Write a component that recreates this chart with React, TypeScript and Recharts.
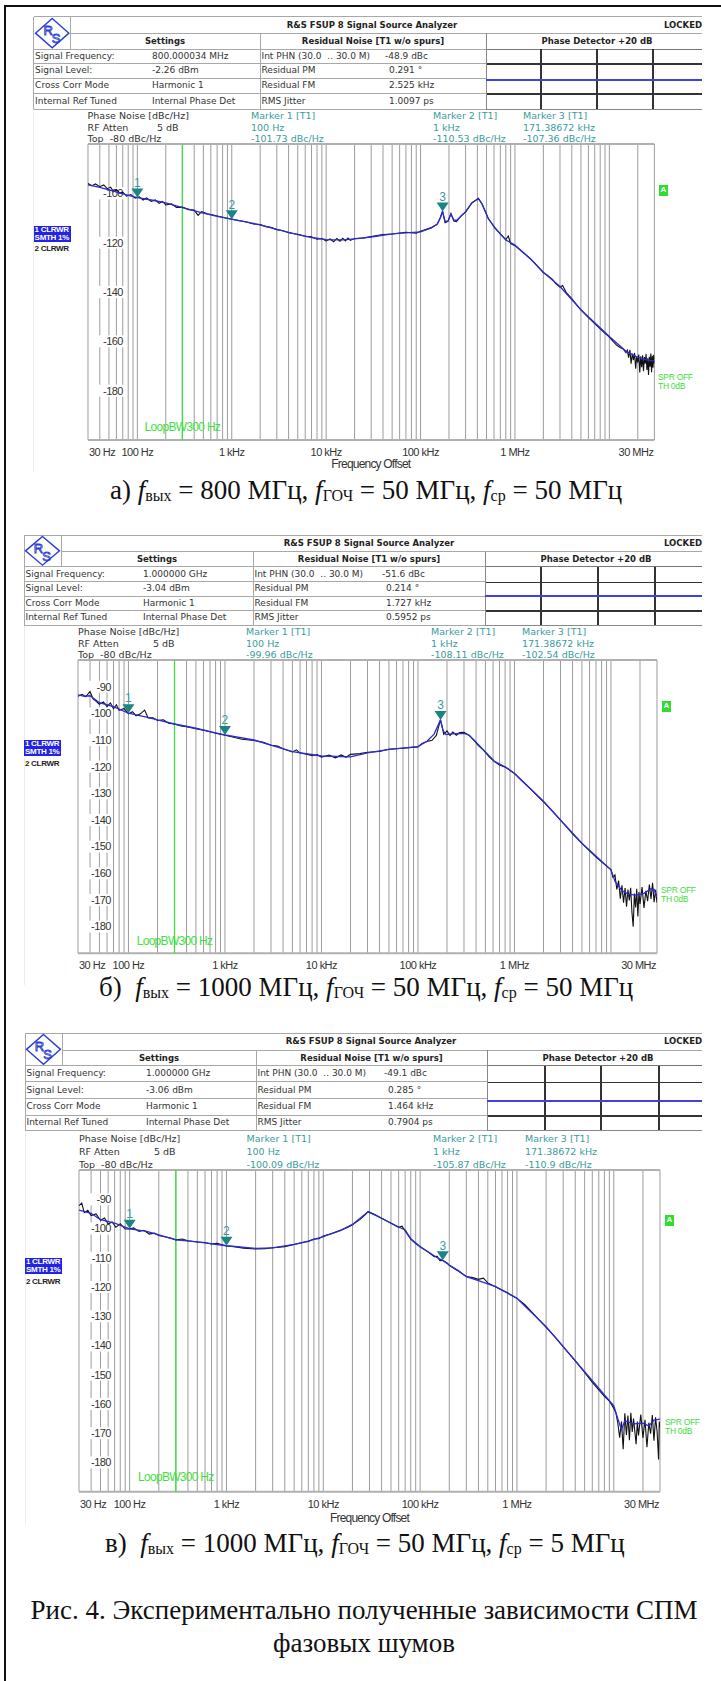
import React from "react";
import {
  LineChart,
  Line,
  XAxis,
  YAxis,
  CartesianGrid,
  ReferenceLine,
  ReferenceDot,
} from "recharts";

type Pt = [number, number];

// ---------- axis / tick data ----------
const xTickLabels: Record<number, string> = {
  30: "30 Hz",
  100: "100 Hz",
  1000: "1 kHz",
  10000: "10 kHz",
  100000: "100 kHz",
  1000000: "1 MHz",
  30000000: "30 MHz",
};
// log grid: 30..90 Hz, then 1..9 per decade up to 30 MHz
const gridFreqs = [
  30, 40, 50, 60, 70, 80, 90,
  ...[1e2, 1e3, 1e4, 1e5, 1e6].flatMap((d) => [1, 2, 3, 4, 5, 6, 7, 8, 9].map((m) => m * d)),
  1e7, 2e7, 3e7,
];
const yGridA = [-80, -100, -120, -140, -160, -180, -200];
const yLabelsA = [-100, -120, -140, -160, -180];
const yGridBC = [-80, -90, -100, -110, -120, -130, -140, -150, -160, -170, -180, -190];
const yLabelsBC = [-90, -100, -110, -120, -130, -140, -150, -160, -170, -180];
const loopBw = 300;

// ---------- markers ----------
const markerFreqs = [100, 1000, 171386.72];
const markerFreqLabels = ["100 Hz", "1 kHz", "171.38672 kHz"];
const markerA = [-101.73, -110.53, -107.36];
const markerB = [-99.96, -108.11, -102.54];
const markerC = [-100.09, -105.87, -110.9];

// ---------- header tables ----------
const settingsLabels = ["Signal Frequency:", "Signal Level:", "Cross Corr Mode", "Internal Ref Tuned"];
const residualLabels = ["Int PHN (30.0  .. 30.0 M)", "Residual PM", "Residual FM", "RMS Jitter"];
const settingsA = ["800.000034 MHz", "-2.26 dBm", "Harmonic 1", "Internal Phase Det"];
const residualA = ["-48.9 dBc", "0.291 °", "2.525 kHz", "1.0097 ps"];
const settingsB = ["1.000000 GHz", "-3.04 dBm", "Harmonic 1", "Internal Phase Det"];
const residualB = ["-51.6 dBc", "0.214 °", "1.727 kHz", "0.5952 ps"];
const settingsC = ["1.000000 GHz", "-3.06 dBm", "Harmonic 1", "Internal Phase Det"];
const residualC = ["-49.1 dBc", "0.285 °", "1.464 kHz", "0.7904 ps"];

// ---------- captions ----------
const captionA = ["а) ", "800", "50", "50"];
const captionB = ["б)  ", "1000", "50", "50"];
const captionC = ["в)  ", "1000", "50", "5"];
const figCaption = ["Рис. 4. Экспериментально полученные зависимости СПМ", "фазовых шумов"];

// ---------- traces (freq Hz, dBc/Hz) ----------
const smoothA: Pt[] = [
  [30, -96.6], [40, -97.6], [50, -98.6], [70, -100.2], [100, -101.7], [150, -102.9], [200, -103.9],
  [300, -105.8], [500, -108], [700, -109.3], [1000, -110.5], [1500, -111.8], [2000, -112.8],
  [3000, -114.6], [5000, -116.7], [7000, -117.9], [10000, -118.8], [15000, -118.9], [20000, -118.5],
  [30000, -117.7], [50000, -116.4], [70000, -116], [100000, -115.6], [130000, -114], [150000, -112.5],
  [162000, -110], [171000, -107.4], [182000, -111.5], [195000, -111.2], [210000, -108.4],
  [225000, -110.8], [240000, -111], [270000, -109.2], [300000, -107.4], [350000, -103.8],
  [410000, -102.2], [450000, -104.5], [520000, -110], [610000, -114], [800000, -118.9],
  [1000000, -121], [1500000, -127], [2000000, -132], [3000000, -137.8], [5000000, -147.2],
  [7000000, -152.5], [10000000, -158], [15000000, -164], [20000000, -166.5], [25000000, -167.5],
  [30000000, -168],
];
const noisyA: Pt[] = [
  [30, -96.0], [33, -96.9], [36, -96.2], [40, -97.3], [44, -96.6], [48, -98.1], [52, -97.5], [56, -99.3],
  [60, -98.4], [65, -99.9], [70, -99.5], [77, -101.1], [85, -100.5], [95, -101.9], [105, -101.4],
  [115, -102.7], [125, -101.9], [140, -103.3], [155, -102.7], [170, -104.1], [185, -103.3], [200, -104.7],
  [230, -104.3], [260, -105.7], [300, -105.6], [350, -106.6], [400, -106.8], [440, -108.9], [480, -107.4],
  [550, -108.3], [650, -108.9], [800, -109.7], [1000, -110.5], [1200, -111.1], [1400, -111.5],
  [1700, -112.4], [2000, -112.7], [2300, -113.5], [2600, -113.8], [3000, -114.7], [3500, -115.2],
  [4000, -116.0], [5000, -116.6], [6000, -117.4], [7000, -117.6], [8000, -118.6], [9000, -118.3],
  [10000, -119.3], [11000, -118.5], [12000, -119.6], [13000, -118.3], [14000, -119.4], [15000, -118.2],
  [16000, -119.3], [17000, -118.1], [18000, -119.1], [20000, -118.3], [25000, -118.1], [30000, -117.5],
  [40000, -116.7], [50000, -116.5], [70000, -115.8], [90000, -116.2], [100000, -115.4], [130000, -113.9],
  [150000, -112.6], [162000, -109.8], [171000, -107.2], [182000, -111.9], [195000, -111.4],
  [210000, -108.2], [225000, -111.2], [240000, -111.5], [270000, -109.0], [300000, -107.6],
  [350000, -103.9], [410000, -102.0], [450000, -104.4], [520000, -110.2], [610000, -113.8],
  [700000, -116.4], [800000, -118.8], [850000, -117.3], [900000, -120.4], [1000000, -121.2],
  [1200000, -123.8], [1400000, -125.9], [1600000, -128.1], [1800000, -130.2], [2000000, -132.2],
  [2200000, -133.2], [2500000, -134.9], [2700000, -136.6], [3000000, -138.0], [3200000, -137.4],
  [3500000, -140.3], [4000000, -142.7], [5000000, -147.3], [6000000, -150.4], [7000000, -152.8],
  [8000000, -154.9], [9000000, -156.8], [10000000, -158.3], [11000000, -160.1], [12000000, -161.6],
  [13000000, -162.5], [14000000, -163.1], [15000000, -164.6], [15500000, -163.6], [16000000, -166.6],
  [16500000, -163.4], [17000000, -169.1], [17500000, -165.0], [18000000, -167.6], [18500000, -164.7],
  [19000000, -171.1], [19500000, -166.0], [20000000, -168.6], [20500000, -165.4], [21000000, -172.6],
  [21500000, -166.1], [22000000, -170.5], [22500000, -165.7], [23000000, -172.1], [23500000, -166.4],
  [24000000, -169.1], [24500000, -165.1], [25000000, -171.6], [25500000, -166.9], [26000000, -173.6],
  [26500000, -166.3], [27000000, -170.3], [27500000, -164.9], [28000000, -172.5], [28500000, -165.9],
  [29000000, -170.7], [29500000, -165.5], [30000000, -169.0],
];

const smoothB: Pt[] = [
  [30, -93.1], [35, -93.6], [40, -93.4], [50, -96], [70, -97.5], [100, -99.96], [150, -101.3],
  [200, -102.5], [300, -104], [500, -105.6], [700, -106.9], [1000, -108.1], [2000, -110],
  [3000, -111.9], [5000, -114.4], [10000, -116], [20000, -116.3], [30000, -114.8], [50000, -113.5],
  [100000, -112.5], [124000, -110.5], [147000, -107.8], [171000, -102.5], [182000, -106.5],
  [195000, -108], [240000, -107.6], [300000, -107.5], [340000, -108.2], [380000, -110],
  [480000, -113.8], [620000, -118], [815000, -120.2], [1000000, -122.5], [2000000, -133],
  [3000000, -140], [5000000, -148.7], [10000000, -158.7], [11000000, -163], [13000000, -166.5],
  [15000000, -167.8], [18000000, -168.2], [22000000, -167.5], [26000000, -165.8], [28000000, -166],
  [30000000, -169],
];
const noisyB: Pt[] = [
  [30, -93.6], [33, -92.9], [36, -93.8], [40, -91.8], [43, -94.6], [46, -95.4], [50, -96.6], [55, -95.7],
  [60, -97.5], [65, -96.1], [70, -98.3], [75, -96.8], [80, -98.9], [90, -98.2], [100, -100.2], [110, -99.4],
  [120, -100.9], [133, -100.2], [147, -98.8], [160, -101.7], [180, -101.7], [200, -102.7], [230, -102.4],
  [260, -103.7], [300, -104.0], [350, -104.7], [400, -105.0], [500, -105.8], [600, -106.3], [700, -106.9],
  [800, -107.5], [1000, -108.2], [1200, -108.9], [1500, -109.7], [2000, -110.2], [2500, -110.9],
  [3000, -112.0], [3500, -112.3], [4000, -113.3], [5000, -114.5], [5500, -113.7], [6000, -114.9],
  [7000, -115.3], [8000, -115.9], [9000, -115.5], [10000, -116.4], [12000, -115.7], [14000, -116.7],
  [16000, -115.6], [18000, -116.5], [20000, -115.4], [25000, -115.1], [30000, -114.6], [40000, -114.3],
  [50000, -113.5], [70000, -113.1], [100000, -112.6], [110000, -111.3], [124000, -110.6],
  [140000, -110.1], [155000, -108.3], [165000, -104.6], [171000, -102.4], [178000, -104.9],
  [185000, -107.9], [200000, -106.6], [215000, -108.3], [230000, -107.0], [250000, -108.2],
  [270000, -107.2], [300000, -107.1], [340000, -108.3], [380000, -110.1], [420000, -112.0],
  [480000, -113.9], [550000, -116.4], [620000, -118.1], [700000, -119.4], [815000, -120.3],
  [1000000, -122.6], [1200000, -125.4], [1500000, -128.7], [1800000, -131.6], [2000000, -133.2],
  [2500000, -136.9], [3000000, -140.1], [3500000, -142.8], [4000000, -145.2], [5000000, -148.8],
  [6000000, -151.6], [7000000, -153.9], [8000000, -155.7], [9000000, -157.3], [10000000, -158.6],
  [10500000, -161.5], [11000000, -160.6], [11500000, -166.0], [12000000, -162.7], [12500000, -169.5],
  [13000000, -164.5], [13500000, -171.0], [14000000, -165.5], [14500000, -172.5], [15000000, -166.1],
  [15500000, -170.2], [16000000, -165.4], [16500000, -174.6], [17000000, -180.0], [17500000, -167.6],
  [18000000, -172.8], [18500000, -165.8], [19000000, -176.2], [19500000, -167.0], [20000000, -171.5],
  [21000000, -165.2], [22000000, -173.0], [23000000, -166.6], [24000000, -170.4], [25000000, -164.2],
  [26000000, -169.6], [27000000, -163.6], [28000000, -170.8], [29000000, -166.2], [30000000, -171.0],
];

const smoothC: Pt[] = [
  [30, -93.7], [40, -94.8], [50, -97], [70, -98.2], [100, -100.1], [150, -101], [200, -102.2],
  [300, -103.9], [500, -104.6], [1000, -105.9], [2000, -106.8], [3000, -106.6], [5000, -105.4],
  [7000, -104.3], [10000, -102.8], [15000, -100.7], [20000, -98.6], [29000, -94.3], [40000, -96.5],
  [60000, -99.5], [70000, -100.5], [80000, -103.5], [100000, -106.2], [150000, -110], [171000, -110.9],
  [200000, -112.5], [250000, -114.5], [300000, -116.5], [400000, -117.8], [600000, -119.9],
  [1000000, -123.9], [2000000, -133.6], [3000000, -140.4], [5000000, -149], [10000000, -160.6],
  [11000000, -165], [12000000, -168.8], [13000000, -165.8], [16000000, -166.8], [20000000, -166.6],
  [23000000, -167.5], [26000000, -165.5], [30000000, -165.2],
];
const noisyC: Pt[] = [
  [30, -92.2], [32, -91.3], [34, -94.6], [37, -93.8], [40, -95.6], [45, -95.0], [50, -97.2], [55, -96.4],
  [60, -98.5], [66, -97.8], [72, -99.6], [80, -98.4], [90, -100.2], [100, -100.2], [110, -99.8],
  [125, -101.0], [140, -100.6], [160, -101.9], [180, -101.6], [200, -102.4], [230, -102.8], [260, -103.2],
  [300, -103.9], [350, -103.6], [400, -104.2], [500, -104.6], [600, -104.8], [700, -105.3], [800, -105.1],
  [1000, -106.0], [1200, -106.2], [1500, -106.7], [2000, -107.0], [2500, -106.9], [3000, -106.6],
  [4000, -106.2], [5000, -105.5], [6000, -104.9], [7000, -104.4], [8000, -103.6], [9000, -103.5],
  [10000, -102.6], [12000, -101.8], [15000, -100.6], [18000, -99.6], [20000, -98.7], [24000, -96.9],
  [27000, -95.3], [29000, -94.2], [34000, -95.2], [40000, -96.5], [50000, -98.2], [60000, -99.6],
  [65000, -99.2], [70000, -100.8], [80000, -103.6], [90000, -105.2], [100000, -106.3], [120000, -108.0],
  [140000, -109.6], [150000, -109.5], [160000, -111.0], [171000, -110.9], [190000, -111.8],
  [200000, -112.6], [220000, -113.5], [250000, -114.6], [300000, -116.4], [350000, -116.8],
  [400000, -117.4], [450000, -117.0], [500000, -118.6], [600000, -119.9], [700000, -121.0],
  [800000, -122.0], [900000, -123.0], [1000000, -123.9], [1200000, -126.0], [1500000, -129.4],
  [2000000, -133.8], [2500000, -137.2], [3000000, -140.4], [4000000, -145.3], [5000000, -149.2],
  [6000000, -152.6], [7000000, -155.2], [8000000, -157.4], [9000000, -159.0], [10000000, -161.5],
  [10500000, -163.0], [11000000, -166.5], [11500000, -171.5], [12000000, -166.0], [12500000, -175.5],
  [13000000, -163.2], [13500000, -170.6], [14000000, -164.0], [14500000, -172.4], [15000000, -163.0],
  [15500000, -169.6], [16000000, -165.0], [17000000, -173.8], [17500000, -166.0], [18000000, -170.8],
  [19000000, -163.6], [20000000, -171.6], [21000000, -165.4], [22000000, -174.8], [23000000, -166.4],
  [24000000, -170.2], [25000000, -163.8], [26000000, -172.6], [27000000, -164.6], [28000000, -169.4],
  [29000000, -179.0], [29500000, -166.0], [30000000, -168.0],
];

// ---------- layout (page pixels) ----------
type Geo = {
  fl: number; fr: number; rows: number[]; logoR: number; c1: number; c2: number; v1: number; v2: number;
  pd: number[]; pdBlue: number; pdNoisy: boolean; titleX: number;
  mkY: number[]; mkL: number; mkAtt: number; mkX: number[];
  l: number; r: number; t: number; b: number; yMin: number; yLabR: number;
  xLabY: number; foY: number | null; legY: number; aBox: [number, number]; spr: [number, number];
  loopDy: number; capX: number; capY: number;
};

const geoA: Geo = {
  fl: 33.6, fr: 702, rows: [16.7, 33.3, 49, 63, 78, 93, 109], logoR: 70, c1: 260, c2: 486, v1: 152, v2: 389,
  pd: [541, 597, 653], pdBlue: 80, pdNoisy: false, titleX: 372,
  mkY: [116, 128, 138.5], mkL: 87.6, mkAtt: 157, mkX: [251, 433, 523],
  l: 87.6, r: 654, t: 144, b: 440, yMin: -200, yLabR: 35,
  xLabY: 451.7, foY: 464, legY: 225.5, aBox: [659, 190], spr: [658, 377],
  loopDy: 13, capX: 110, capY: 490,
};
const geoB: Geo = {
  fl: 24, fr: 702, rows: [535, 551.7, 566.7, 581.7, 596, 610, 625], logoR: 61, c1: 253, c2: 485, v1: 143, v2: 386,
  pd: [541, 598, 655], pdBlue: 596, pdNoisy: false, titleX: 369,
  mkY: [631.7, 643.3, 655], mkL: 78, mkAtt: 153, mkX: [246, 431, 522],
  l: 78, r: 657, t: 660, b: 953.3, yMin: -190, yLabR: 33,
  xLabY: 965, foY: null, legY: 740, aBox: [662, 706], spr: [661, 890],
  loopDy: 12.5, capX: 99, capY: 987,
};
const geoC: Geo = {
  fl: 25, fr: 702, rows: [1033, 1050, 1065.7, 1081.7, 1098.3, 1115, 1130], logoR: 62, c1: 256, c2: 487, v1: 146, v2: 388,
  pd: [545, 601, 659], pdBlue: 1100.7, pdNoisy: true, titleX: 371,
  mkY: [1139, 1152, 1165], mkL: 79, mkAtt: 154, mkX: [246.5, 433, 525],
  l: 79, r: 660, t: 1170, b: 1491.7, yMin: -190, yLabR: 32,
  xLabY: 1504, foY: 1518, legY: 1258, aBox: [665, 1220], spr: [665, 1422],
  loopDy: 14.5, capX: 105, capY: 1543,
};

const SANS = '"DejaVu Sans", "Noto Sans", sans-serif';
const NARROW = '"Liberation Sans", Arial, sans-serif';
const SERIF = '"Liberation Serif", "Times New Roman", serif';
const TEAL = "#3a9c9c";
const GREEN = "#3ee03e";

type TProps = {
  x: number; y: number; children: React.ReactNode; size?: number; color?: string; bold?: boolean;
  align?: "left" | "center" | "right"; font?: string; ls?: number;
};
const T = ({ x, y, children, size = 9, color = "#333", bold, align = "left", font = SANS, ls = 0 }: TProps) => (
  <div
    style={{
      position: "absolute", left: x, top: y - size / 2, fontSize: size, lineHeight: `${size}px`,
      fontFamily: font, color, fontWeight: bold ? 700 : 400, whiteSpace: "pre", letterSpacing: ls,
      transform: align === "center" ? "translateX(-50%)" : align === "right" ? "translateX(-100%)" : undefined,
    }}
  >
    {children}
  </div>
);

const HLine = ({ x1, x2, y, color = "#a8a8a8", w = 1 }: { x1: number; x2: number; y: number; color?: string; w?: number }) => (
  <div style={{ position: "absolute", left: x1, top: y - w / 2, width: x2 - x1, height: w, background: color }} />
);
const VLine = ({ x, y1, y2, color = "#a8a8a8", w = 1 }: { x: number; y1: number; y2: number; color?: string; w?: number }) => (
  <div style={{ position: "absolute", left: x - w / 2, top: y1, width: w, height: y2 - y1, background: color }} />
);

function Header({ g, settings, residual, markerDb }: { g: Geo; settings: string[]; residual: string[]; markerDb: number[] }) {
  const R = g.rows;
  const mid = (i: number) => (R[i] + R[i + 1]) / 2;
  const cx = (g.fl + g.logoR) / 2;
  const cy = (R[0] + R[2]) / 2;
  return (
    <>
      <HLine x1={g.fl} x2={g.fr} y={R[0]} />
      <HLine x1={g.logoR} x2={g.fr} y={R[1]} />
      {[2, 3, 4, 5, 6].map((i) => (
        <HLine key={i} x1={g.fl} x2={g.c2} y={R[i]} />
      ))}
      <HLine x1={g.c2} x2={g.fr} y={R[2]} color="#777" />
      <HLine x1={g.c2} x2={g.fr} y={R[3] + 1} color="#333" w={1.4} />
      <HLine x1={g.c2} x2={g.fr} y={R[5] + 1} color="#333" w={1.4} />
      <HLine x1={g.c2} x2={g.fr} y={R[6]} color="#888" />
      <VLine x={g.fl} y1={R[0]} y2={R[6]} />
      <VLine x={g.logoR} y1={R[0]} y2={R[2]} />
      <VLine x={g.c1} y1={R[1]} y2={R[6]} />
      <VLine x={g.c2} y1={R[1]} y2={R[6]} color="#888" />
      {g.pd.map((x) => (
        <VLine key={x} x={x} y1={R[2]} y2={R[6]} color="#333" w={1.4} />
      ))}
      <HLine x1={g.c2} x2={g.fr} y={g.pdBlue} color="#3b44e0" w={g.pdNoisy ? 2.2 : 1.5} />
      <div style={{ position: "absolute", left: g.fl, top: R[0] }}>
        <svg width={g.logoR - g.fl} height={R[2] - R[0]}>
          <polygon
            points={`${cx - g.fl},${1.5} ${g.logoR - g.fl - 1.5},${cy - R[0]} ${cx - g.fl},${R[2] - R[0] - 1.5} ${1.5},${cy - R[0]}`}
            fill="none" stroke="#2b3fd4" strokeWidth={1.4}
          />
          <text x={cx - g.fl - 4} y={cy - R[0] + 2} fontSize={13} fontFamily={NARROW} fill="none" stroke="#2b3fd4" strokeWidth={0.9} textAnchor="middle">R</text>
          <text x={cx - g.fl + 4} y={cy - R[0] + 10} fontSize={13} fontFamily={NARROW} fill="none" stroke="#2b3fd4" strokeWidth={0.9} textAnchor="middle">S</text>
        </svg>
      </div>
      <T x={g.titleX} y={mid(0)} bold align="center" size={8.5} color="#222">R&amp;S FSUP 8 Signal Source Analyzer</T>
      <T x={g.fr} y={mid(0)} bold align="right" size={8.5} color="#222">LOCKED</T>
      <T x={(g.logoR + g.c1) / 2} y={mid(1)} bold align="center" size={8.5} color="#222">Settings</T>
      <T x={(g.c1 + g.c2) / 2} y={mid(1)} bold align="center" size={8.5} color="#222">Residual Noise [T1 w/o spurs]</T>
      <T x={g.c2 + 111} y={mid(1)} bold align="center" size={8.5} color="#222">Phase Detector +20 dB</T>
      {settingsLabels.map((s, i) => (
        <React.Fragment key={s}>
          <T x={g.fl + 1.5} y={mid(i + 2)}>{s}</T>
          <T x={g.v1} y={mid(i + 2)}>{settings[i]}</T>
          <T x={g.c1 + 1.5} y={mid(i + 2)}>{residualLabels[i]}</T>
          <T x={i === 0 ? g.v2 - 4 : g.v2} y={mid(i + 2)}>{residual[i]}</T>
        </React.Fragment>
      ))}
      <T x={g.mkL} y={g.mkY[0]} size={9.5}>Phase Noise [dBc/Hz]</T>
      <T x={g.mkL} y={g.mkY[1]} size={9.5}>RF Atten</T>
      <T x={g.mkAtt} y={g.mkY[1]} size={9.5}>5 dB</T>
      <T x={g.mkL} y={g.mkY[2]} size={9.5}>Top  -80 dBc/Hz</T>
      {markerFreqs.map((_, i) => (
        <React.Fragment key={i}>
          <T x={g.mkX[i]} y={g.mkY[0]} size={9.5} color={TEAL}>{`Marker ${i + 1} [T1]`}</T>
          <T x={g.mkX[i]} y={g.mkY[1]} size={9.5} color={TEAL}>{markerFreqLabels[i]}</T>
          <T x={g.mkX[i]} y={g.mkY[2]} size={9.5} color={TEAL}>{`${markerDb[i]} dBc/Hz`}</T>
        </React.Fragment>
      ))}
    </>
  );
}

const MarkerShape = ({ cx, cy, n }: { cx: number; cy: number; n: number }) => (
  <g>
    <polygon points={`${cx - 6},${cy - 9} ${cx + 6},${cy - 9} ${cx},${cy}`} fill="#1b8484" />
    <text x={cx} y={cy - 15} dy="0.35em" textAnchor="middle" fontSize={12} fontFamily={NARROW} fill={TEAL}>{n}</text>
  </g>
);

function PhasePlot({ g, smooth, noisy, markerDb, yGrid, yLabels }: {
  g: Geo; smooth: Pt[]; noisy: Pt[]; markerDb: number[]; yGrid: number[]; yLabels: number[];
}) {
  const padL = 2, padR = 4, padT = 4, axisH = 40;
  const w = g.r - g.l + padL + padR;
  const h = g.b - g.t + padT + axisH;
  const xly = g.xLabY - g.t + padT;
  const smoothData = smooth.map(([f, db]) => ({ f, db }));
  const noisyData = noisy.map(([f, db]) => ({ f, db }));
  return (
    <div style={{ position: "absolute", left: g.l - padL, top: g.t - padT }}>
      <LineChart width={w} height={h} margin={{ top: padT, right: padR, left: padL, bottom: 0 }}>
        <CartesianGrid horizontal={false} stroke="#9c9c9c" strokeWidth={1} />
        <CartesianGrid vertical={false} stroke="#b0b0b0" strokeWidth={2} />
        <XAxis
          dataKey="f" type="number" scale="log" domain={[30, 3e7]} allowDataOverflow ticks={gridFreqs}
          interval={0} height={axisH} axisLine={false} tickLine={false}
          tick={(p: any) => {
            const v = p.payload.value;
            const label = xTickLabels[v];
            if (!label) return <g />;
            const anchor = v === 30 ? "start" : v === 3e7 ? "end" : "middle";
            const x = v === 30 ? p.x + 1 : v === 3e7 ? p.x - 1 : p.x;
            return (
              <text x={x} y={xly} dy="0.35em" textAnchor={anchor} fontSize={11} fontFamily={NARROW} letterSpacing={-0.5} fill="#333">
                {label}
              </text>
            );
          }}
        />
        <YAxis
          type="number" domain={[g.yMin, -80]} allowDataOverflow ticks={yGrid} interval={0} width={0}
          axisLine={false} tickLine={false} tick={false}
        />
        {yLabels.map((v) => (
          <ReferenceLine
            key={v} y={v} stroke="none"
            label={(p: any) => {
              const vb = p.viewBox || {};
              const lx = vb.x + g.yLabR;
              return (
                <g>
                  <rect x={lx - 24} y={vb.y - 6} width={25} height={12} fill="#fff" />
                  <text x={lx} y={vb.y} dy="0.35em" textAnchor="end" fontSize={11} fontFamily={NARROW} letterSpacing={-0.5} fill="#333">
                    {v}
                  </text>
                </g>
              );
            }}
          />
        ))}
        <ReferenceLine
          x={loopBw} stroke={GREEN} strokeWidth={1.3}
          label={(p: any) => {
            const vb = p.viewBox || {};
            return (
              <text x={vb.x} y={vb.y + vb.height - g.loopDy} dy="0.35em" textAnchor="middle" fontSize={12} fontFamily={NARROW} letterSpacing={-0.7} fill={GREEN}>
                LoopBW300 Hz
              </text>
            );
          }}
        />
        <Line data={noisyData} dataKey="db" stroke="#111" strokeWidth={1.1} dot={false} isAnimationActive={false} />
        <Line data={smoothData} dataKey="db" stroke="#2b2bd8" strokeWidth={1.3} dot={false} isAnimationActive={false} />
        {markerFreqs.map((f, i) => (
          <ReferenceDot
            key={i} x={f} y={markerDb[i]} r={0} ifOverflow="visible"
            shape={(p: any) => <MarkerShape cx={p.cx} cy={p.cy} n={i + 1} />}
          />
        ))}
      </LineChart>
    </div>
  );
}

function Extras({ g }: { g: Geo }) {
  return (
    <>
      <div style={{ position: "absolute", left: g.fl, top: g.legY, width: 37, height: 16, background: "#2323e6" }} />
      <T x={g.fl + 1} y={g.legY + 4.3} size={8} color="#fff" font={NARROW} bold ls={-0.3}>1 CLRWR</T>
      <T x={g.fl + 1} y={g.legY + 12} size={8} color="#fff" font={NARROW} bold ls={-0.3}>SMTH 1%</T>
      <T x={g.fl + 1} y={g.legY + 23.5} size={8} color="#222" font={NARROW} bold ls={-0.3}>2 CLRWR</T>
      <div style={{ position: "absolute", left: g.aBox[0], top: g.aBox[1] - 5.5, width: 9, height: 11, background: "#2fdc2f" }} />
      <T x={g.aBox[0] + 4.5} y={g.aBox[1]} size={8} color="#fff" font={NARROW} bold align="center">A</T>
      <T x={g.spr[0]} y={g.spr[1]} size={8.5} color={GREEN} font={NARROW} ls={-0.3}>SPR OFF</T>
      <T x={g.spr[0]} y={g.spr[1] + 9.5} size={8.5} color={GREEN} font={NARROW} ls={-0.3}>TH 0dB</T>
      {g.foY !== null && (
        <T x={(g.l + g.r) / 2} y={g.foY} size={12} font={NARROW} ls={-0.8} align="center">Frequency Offset</T>
      )}
    </>
  );
}

const Sub = ({ children }: { children: React.ReactNode }) => (
  <span style={{ fontSize: 16, position: "relative", top: 2 }}>{children}</span>
);

function Caption({ g, c }: { g: Geo; c: string[] }) {
  return (
    <div
      style={{
        position: "absolute", left: g.capX, top: g.capY - 14, fontFamily: SERIF, fontSize: 27,
        lineHeight: "28px", whiteSpace: "pre", color: "#111",
      }}
    >
      {c[0]}
      <i>f</i>
      <Sub>вых</Sub>
      {` = ${c[1]} МГц, `}
      <i>f</i>
      <Sub>ГОЧ</Sub>
      {` = ${c[2]} МГц, `}
      <i>f</i>
      <Sub>ср</Sub>
      {` = ${c[3]} МГц`}
    </div>
  );
}

function Panel(props: {
  g: Geo; settings: string[]; residual: string[]; markerDb: number[]; smooth: Pt[]; noisy: Pt[];
  yGrid: number[]; yLabels: number[]; caption: string[];
}) {
  const { g } = props;
  return (
    <>
      <VLine x={g.fl} y1={g.rows[6]} y2={g.xLabY + 20} color="#ececec" />
      <Header g={g} settings={props.settings} residual={props.residual} markerDb={props.markerDb} />
      <Extras g={g} />
      <PhasePlot g={g} smooth={props.smooth} noisy={props.noisy} markerDb={props.markerDb} yGrid={props.yGrid} yLabels={props.yLabels} />
      <Caption g={g} c={props.caption} />
    </>
  );
}

export default function App() {
  return (
    <div
      style={{
        position: "absolute", left: 0, top: 0, width: 721, height: 1681, background: "#fff",
        overflow: "hidden", fontFamily: SANS,
      }}
    >
      <div style={{ position: "absolute", left: 3.5, top: 4.8, width: 2.2, height: 1677, background: "#111" }} />
      <div style={{ position: "absolute", left: 3.5, top: 4.8, width: 718, height: 2.2, background: "#111" }} />
      <Panel g={geoA} settings={settingsA} residual={residualA} markerDb={markerA} smooth={smoothA} noisy={noisyA} yGrid={yGridA} yLabels={yLabelsA} caption={captionA} />
      <Panel g={geoB} settings={settingsB} residual={residualB} markerDb={markerB} smooth={smoothB} noisy={noisyB} yGrid={yGridBC} yLabels={yLabelsBC} caption={captionB} />
      <Panel g={geoC} settings={settingsC} residual={residualC} markerDb={markerC} smooth={smoothC} noisy={noisyC} yGrid={yGridBC} yLabels={yLabelsBC} caption={captionC} />
      <div
        style={{
          position: "absolute", left: 0, top: 1594, width: 728, textAlign: "center", fontFamily: SERIF,
          fontSize: 27, lineHeight: "33px", color: "#111",
        }}
      >
        {figCaption[0]}
        <br />
        {figCaption[1]}
      </div>
    </div>
  );
}
